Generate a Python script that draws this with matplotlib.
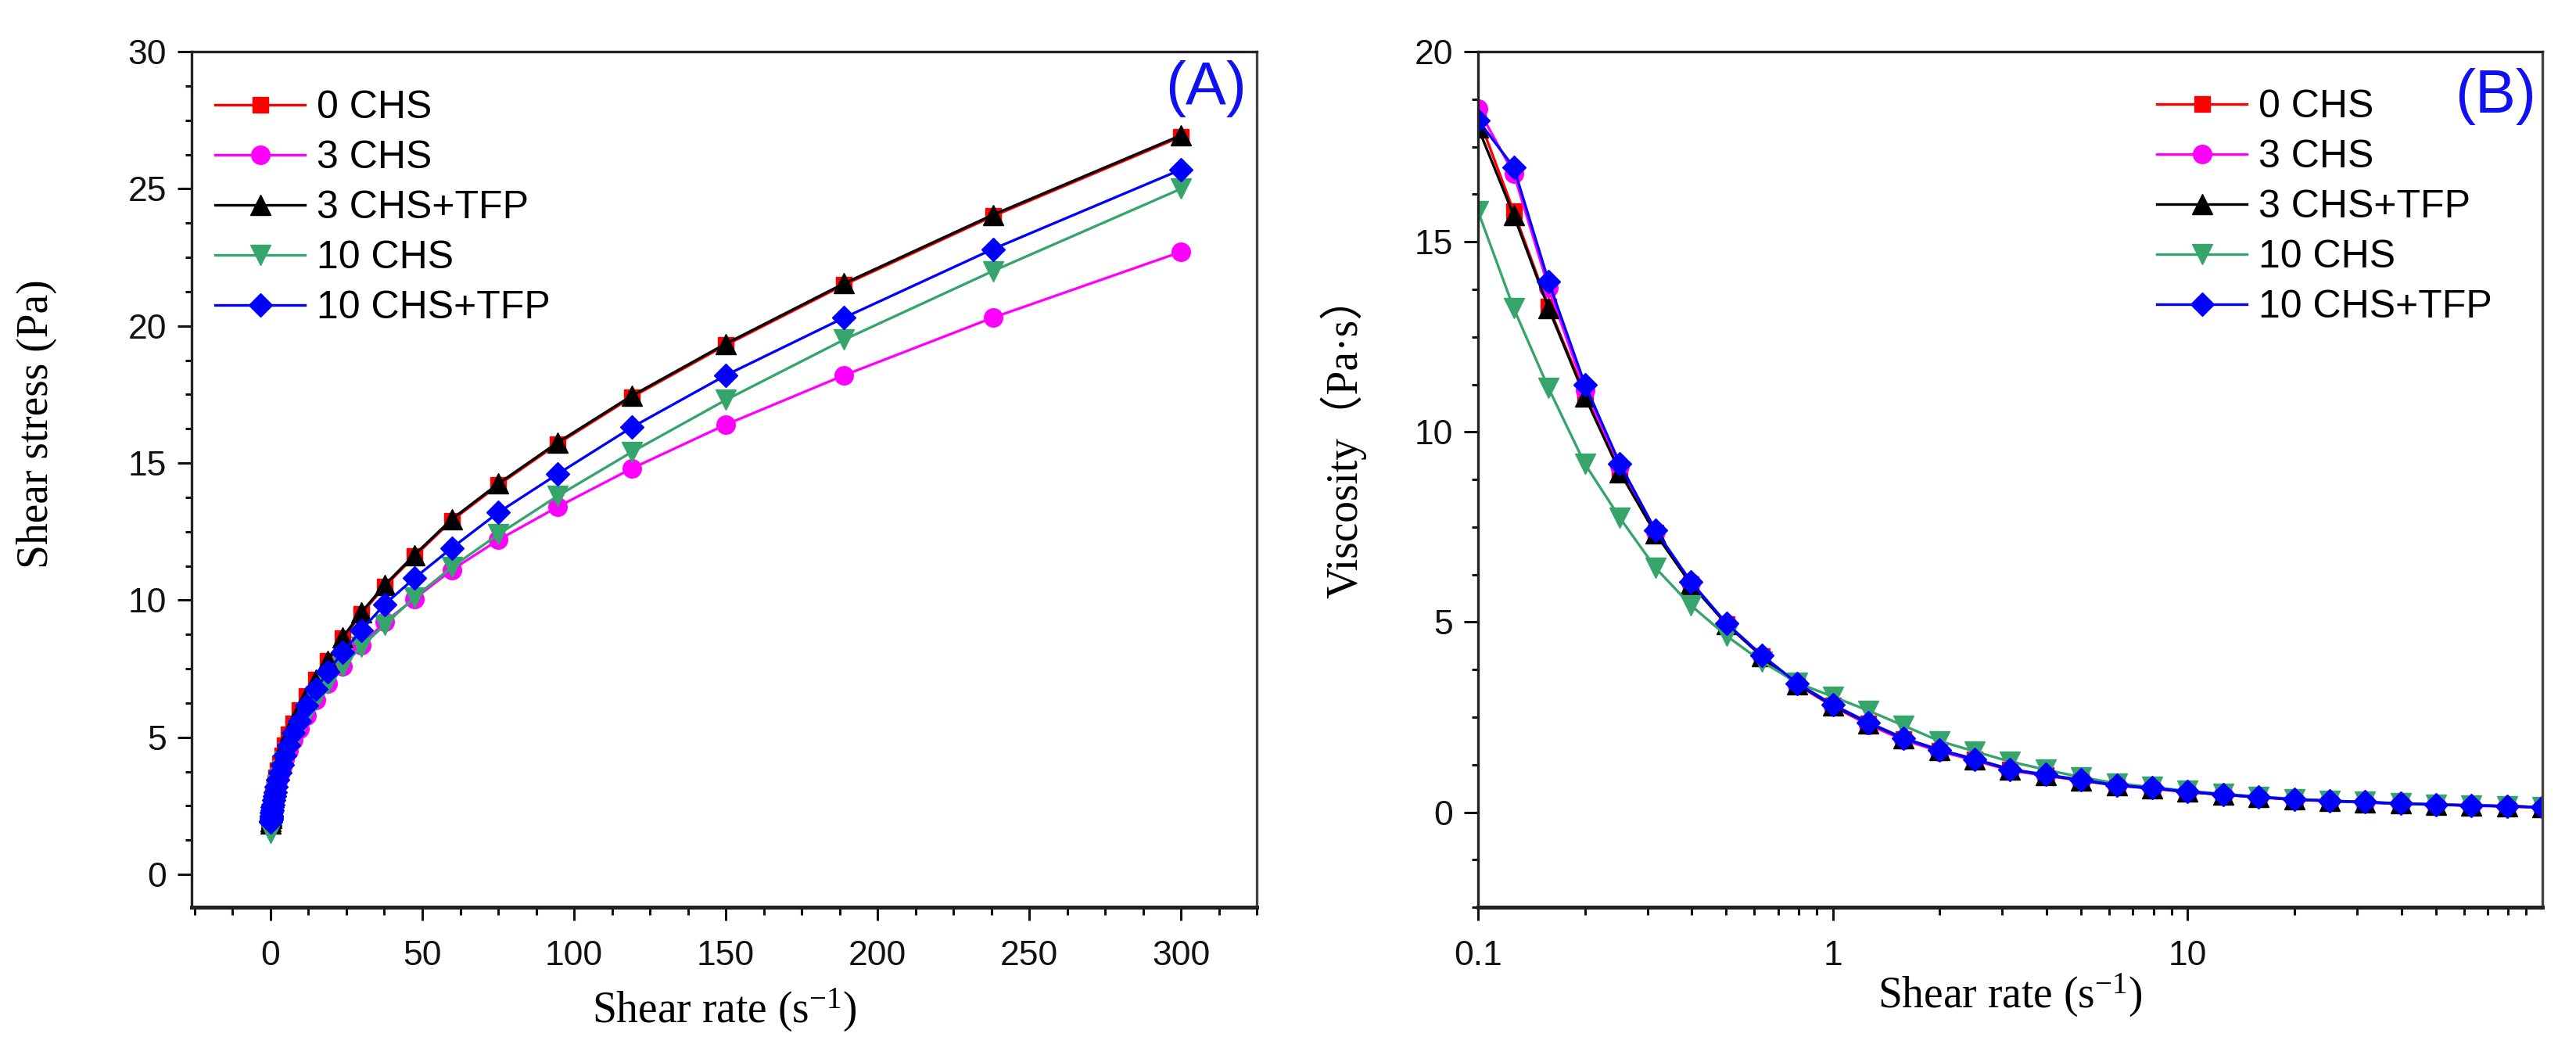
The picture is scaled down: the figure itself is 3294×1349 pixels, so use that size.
import matplotlib
matplotlib.use("Agg")
import matplotlib.pyplot as plt
from matplotlib.ticker import MultipleLocator, FixedLocator, LogLocator, NullFormatter, FixedFormatter

plt.rcParams['mathtext.fontset'] = 'custom'
plt.rcParams['mathtext.rm'] = 'Liberation Serif'
plt.rcParams['mathtext.it'] = 'Liberation Serif:italic'

# ---------------- data ----------------
series_names = ["0 CHS", "3 CHS", "3 CHS+TFP", "10 CHS", "10 CHS+TFP"]

# Panel A: shear stress vs shear rate
rate_a = [0.095, 0.119, 0.150, 0.189, 0.237, 0.299, 0.376, 0.474, 0.597, 0.751,
          0.946, 1.19, 1.50, 1.89, 2.37, 2.99, 3.76, 4.74, 5.96, 7.51,
          9.45, 11.9, 15.0, 18.9, 23.8, 29.9, 37.6, 47.4, 59.7, 75.1,
          94.6, 119, 150, 189, 238, 300]
stress_0chs = [1.90, 2.00, 2.10, 2.20, 2.30, 2.40, 2.50, 2.60, 2.70, 2.85,
               3.00, 3.15, 3.35, 3.55, 3.80, 4.05, 4.35, 4.70, 5.10, 5.50,
               6.00, 6.50, 7.10, 7.80, 8.60, 9.50, 10.5, 11.6, 12.9, 14.2,
               15.7, 17.4, 19.3, 21.5, 24.0, 26.9]
stress_3chs = [1.85, 1.90, 1.95, 2.00, 2.05, 2.15, 2.25, 2.35, 2.45, 2.55,
               2.70, 2.85, 3.00, 3.20, 3.40, 3.65, 3.90, 4.20, 4.50, 4.90,
               5.30, 5.80, 6.35, 6.95, 7.60, 8.35, 9.20, 10.05, 11.1, 12.2,
               13.4, 14.8, 16.4, 18.2, 20.3, 22.7]
stress_3chs_tfp = [1.85, 1.95, 2.05, 2.15, 2.25, 2.35, 2.45, 2.55, 2.70, 2.85,
                   3.00, 3.15, 3.35, 3.55, 3.80, 4.05, 4.35, 4.70, 5.10, 5.50,
                   6.00, 6.50, 7.10, 7.80, 8.65, 9.55, 10.55, 11.65, 12.95, 14.25,
                   15.75, 17.45, 19.35, 21.55, 24.05, 26.95]
stress_10chs = [1.50, 1.55, 1.60, 1.65, 1.72, 1.80, 1.90, 2.00, 2.15, 2.30,
                2.45, 2.60, 2.80, 3.00, 3.25, 3.50, 3.80, 4.10, 4.45, 4.85,
                5.30, 5.80, 6.35, 6.95, 7.60, 8.30, 9.10, 10.1, 11.2, 12.4,
                13.8, 15.4, 17.3, 19.5, 22.0, 25.0]
stress_10chs_tfp = [1.90, 1.95, 2.00, 2.05, 2.10, 2.15, 2.25, 2.35, 2.45, 2.55,
                    2.70, 2.85, 3.00, 3.20, 3.45, 3.70, 4.00, 4.35, 4.70, 5.15,
                    5.60, 6.15, 6.75, 7.40, 8.10, 8.90, 9.85, 10.8, 11.9, 13.2,
                    14.6, 16.3, 18.2, 20.3, 22.8, 25.7]

# Panel B: viscosity vs shear rate
rate_b = [0.1, 0.126, 0.158, 0.2, 0.251, 0.316, 0.398, 0.501, 0.631, 0.794,
          1.0, 1.26, 1.58, 2.0, 2.51, 3.16, 3.98, 5.01, 6.31, 7.94,
          10.0, 12.6, 15.8, 20.0, 25.1, 31.6, 39.8, 50.1, 63.1, 79.4, 100.0]
visc_0chs = [18.3, 15.8, 13.3, 11.0, 9.00, 7.35, 6.00, 4.95, 4.10, 3.37,
             2.80, 2.33, 1.93, 1.62, 1.38, 1.12, 0.98, 0.84, 0.71, 0.63,
             0.54, 0.46, 0.40, 0.34, 0.30, 0.26, 0.23, 0.20, 0.18, 0.16, 0.13]
visc_3chs = [18.5, 16.8, 13.8, 11.1, 9.10, 7.38, 6.03, 4.94, 4.10, 3.35,
             2.78, 2.30, 1.90, 1.60, 1.36, 1.10, 0.96, 0.83, 0.70, 0.62,
             0.53, 0.46, 0.39, 0.33, 0.29, 0.26, 0.22, 0.20, 0.17, 0.15, 0.12]
visc_3chs_tfp = [18.0, 15.7, 13.25, 10.93, 8.94, 7.33, 6.00, 4.95, 4.10, 3.37,
                 2.80, 2.34, 1.94, 1.63, 1.39, 1.12, 0.98, 0.84, 0.71, 0.63,
                 0.54, 0.46, 0.40, 0.34, 0.30, 0.26, 0.23, 0.20, 0.18, 0.16, 0.13]
visc_10chs = [15.8, 13.25, 11.15, 9.16, 7.74, 6.43, 5.44, 4.64, 3.96, 3.40,
              3.04, 2.67, 2.28, 1.87, 1.60, 1.33, 1.12, 0.92, 0.76, 0.66,
              0.56, 0.48, 0.41, 0.35, 0.30, 0.27, 0.23, 0.20, 0.18, 0.16, 0.13]
visc_10chs_tfp = [18.2, 16.96, 13.96, 11.25, 9.16, 7.42, 6.06, 4.97, 4.13, 3.39,
                  2.83, 2.36, 1.95, 1.64, 1.40, 1.13, 0.99, 0.85, 0.71, 0.64,
                  0.54, 0.47, 0.40, 0.34, 0.30, 0.27, 0.23, 0.20, 0.18, 0.16, 0.13]

xticks_a = [0, 50, 100, 150, 200, 250, 300]
yticks_a = [0, 5, 10, 15, 20, 25, 30]
xticks_b = [0.1, 1, 10]
xticklabels_b = ["0.1", "1", "10"]
yticks_b = [0, 5, 10, 15, 20]

# ---------------- style ----------------
colors = ["#FF0000", "#FF00FF", "#000000", "#36A56C", "#0000FF"]
markers = ["s", "o", "^", "v", "D"]
msizes = [15, 17, 19, 19, 15]

SANS = "Liberation Sans"
SERIF = "Liberation Serif"
TICK_FS = 32
LEG_FS = 36
LAB_FS = 40

fig = plt.figure(figsize=(32.94, 13.49), dpi=100)
axA = fig.add_axes([0.0744, 0.140, 0.4135, 0.811])
axB = fig.add_axes([0.5738, 0.140, 0.4132, 0.811])

stress = [stress_0chs, stress_3chs, stress_3chs_tfp, stress_10chs, stress_10chs_tfp]
visc = [visc_0chs, visc_3chs, visc_3chs_tfp, visc_10chs, visc_10chs_tfp]

for i in range(5):
    axA.plot(rate_a, stress[i], color=colors[i], marker=markers[i], ms=msizes[i],
             mec=colors[i], mfc=colors[i], lw=2.4, label=series_names[i])
    axB.plot(rate_b, visc[i], color=colors[i], marker=markers[i], ms=msizes[i],
             mec=colors[i], mfc=colors[i], lw=2.4, label=series_names[i])

# Axes A
axA.set_xlim(-26, 325)
axA.set_ylim(-1.2, 30)
axA.xaxis.set_major_locator(FixedLocator(xticks_a))
axA.xaxis.set_minor_locator(MultipleLocator(12.5))
axA.yaxis.set_major_locator(FixedLocator(yticks_a))
axA.yaxis.set_minor_locator(MultipleLocator(1.25))

# Axes B
axB.set_xscale("log")
axB.set_xlim(0.1, 100)
axB.set_ylim(-2.5, 20)
axB.xaxis.set_major_locator(FixedLocator(xticks_b))
axB.xaxis.set_major_formatter(FixedFormatter(xticklabels_b))
axB.xaxis.set_minor_locator(LogLocator(base=10, subs=[2, 3, 4, 5, 6, 7, 8, 9], numticks=20))
axB.xaxis.set_minor_formatter(NullFormatter())
axB.yaxis.set_major_locator(FixedLocator(yticks_b))
axB.yaxis.set_minor_locator(MultipleLocator(1.25))

for ax in (axA, axB):
    for s in ax.spines.values():
        s.set_linewidth(2.4)
        s.set_color("#222222")
    ax.spines["bottom"].set_linewidth(3.6)
    ax.spines["right"].set_color("#444444")
    ax.tick_params(axis="both", which="both", direction="out", top=False, right=False,
                   width=2.2, color="#111111")
    ax.tick_params(axis="y", which="major", length=13, pad=10)
    ax.tick_params(axis="y", which="minor", length=6)
    ax.tick_params(axis="x", which="major", length=12, pad=18)
    ax.tick_params(axis="x", which="minor", length=7)
    for lab in ax.get_xticklabels() + ax.get_yticklabels():
        lab.set_fontfamily(SANS)
        lab.set_fontsize(TICK_FS)
        lab.set_color("#111111")

axA.set_xlabel("Shear rate (s$^{\\mathrm{-1}}$)", fontsize=LAB_FS, family=SERIF, labelpad=14)
axA.set_ylabel("Shear stress (Pa)", fontsize=LAB_FS, family=SERIF)
axA.yaxis.set_label_coords(-0.126, 0.565)

axB.set_xlabel("Shear rate (s$^{\\mathrm{-1}}$)", fontsize=LAB_FS, family=SERIF, labelpad=0)
axB.set_ylabel("Viscosity\uff08Pa\u00b7s\uff09", fontsize=LAB_FS, family=[SERIF, "Noto Sans CJK SC"])
axB.yaxis.set_label_coords(-0.105, 0.55)

legA = axA.legend(loc="upper left", bbox_to_anchor=(0.022, 0.955), frameon=False,
                  prop={"family": SANS, "size": LEG_FS}, handlelength=2.3,
                  handletextpad=0.3, labelspacing=0.36, borderaxespad=0, borderpad=0)
legB = axB.legend(loc="upper left", bbox_to_anchor=(0.638, 0.956), frameon=False,
                  prop={"family": SANS, "size": LEG_FS}, handlelength=2.3,
                  handletextpad=0.3, labelspacing=0.36, borderaxespad=0, borderpad=0)

axA.text(0.952, 0.99, "(A)", transform=axA.transAxes, ha="center", va="top",
         fontsize=56, family=SANS, color="#1010F0")
axB.text(0.956, 0.981, "(B)", transform=axB.transAxes, ha="center", va="top",
         fontsize=56, family=SANS, color="#1010F0")

fig.savefig("out.png", dpi=100, facecolor="white")
